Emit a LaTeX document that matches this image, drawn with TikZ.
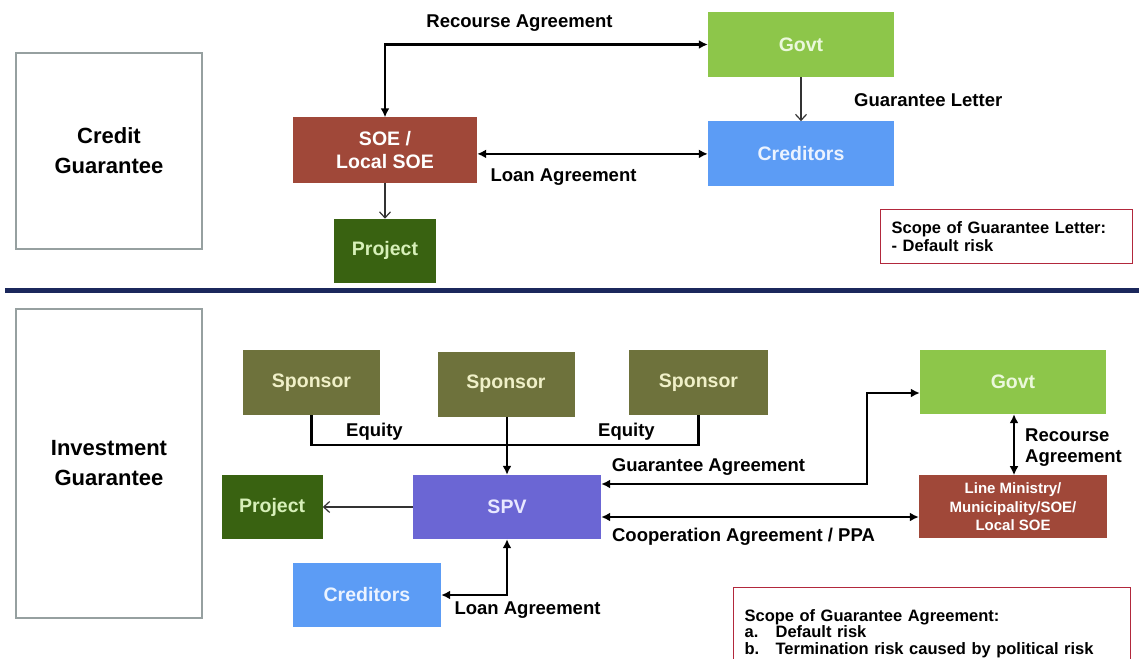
\documentclass[tikz,border=0pt]{standalone}
\usepackage{fontspec}
\setmainfont{Liberation Sans}
\usetikzlibrary{arrows.meta, positioning, calc}
\usepackage{xcolor}
\definecolor{SoeBrown}{RGB}{160,72,57}
\definecolor{ProjGreen}{RGB}{57,98,17}
\definecolor{ProjText}{RGB}{215,240,185}
\definecolor{GovGreen}{RGB}{141,198,74}
\definecolor{GovText}{RGB}{235,248,220}
\definecolor{CredBlue}{RGB}{92,156,245}
\definecolor{CredText}{RGB}{235,243,255}
\definecolor{SponsorOlive}{RGB}{110,114,60}
\definecolor{SponsorText}{RGB}{240,240,200}
\definecolor{SpvPurple}{RGB}{107,102,212}
\definecolor{SpvText}{RGB}{232,232,255}
\definecolor{ScopeRed}{RGB}{178,40,60}
\definecolor{CatGray}{RGB}{150,160,160}
\definecolor{Navy}{RGB}{27,40,92}

\begin{document}
\begin{tikzpicture}[x=1pt, y=-1pt]\bfseries
	\tikzstyle{entity} = [inner sep=0pt, align=center, minimum width=186pt, minimum height=65pt, font=\fontsize{19.5}{23}\selectfont\bfseries]
	\tikzstyle{catbox} = [draw=CatGray, line width=2.5pt, minimum width=186pt, align=center, font=\fontsize{22}{30}\selectfont\bfseries]
	\tikzstyle{note} = [draw=ScopeRed, line width=1.2pt, align=left, inner xsep=11pt, anchor=north west, font=\fontsize{16.5}{16.5}\selectfont\bfseries]
	\tikzstyle{lbl} = [inner sep=0pt, font=\fontsize{18.5}{21}\selectfont\bfseries]
	\tikzstyle{heavy} = [line width=2.8pt]
	\tikzstyle{light} = [line width=1.2pt, draw=black!80, -{Straight Barb[length=6pt, width=11pt]}]
	
	\path[use as bounding box, fill=white] (0,0) rectangle (1139,658);
	
	% credit guarantee
	\node[catbox, minimum height=196pt] (credit) at (109,151) {Credit\\Guarantee};
	\node[entity, fill=SoeBrown, text=white, minimum width=184pt] (soe) at (385,150) {SOE /\\Local SOE};
	\node[entity, fill=ProjGreen, text=ProjText, minimum width=102pt, minimum height=64pt, below=36pt of soe] (projA) {Project};
	\node[entity, fill=GovGreen, text=GovText] (govA) at (801,44.5) {Govt};
	\node[entity, fill=CredBlue, text=CredText, below=44pt of govA] (credA) {Creditors};
	\node[note, text width=230pt, minimum height=54pt, font=\fontsize{16.5}{18.5}\selectfont\bfseries] (scopeA) at (880,209) {Scope of Guarantee Letter:\\- Default risk};
	
	\draw[heavy, {Latex[length=9pt, width=9pt]}-{Latex[length=9pt, width=9pt]}] (soe.north) |- (govA.west);
	\node[lbl] (recA) at (519.5,23) {Recourse Agreement};
	\draw[light] (govA) -- (credA);
	\node[lbl, anchor=west] (letter) at (854,100) {Guarantee Letter};
	\draw[heavy, {Latex[length=9pt, width=9pt]}-{Latex[length=9pt, width=9pt]}] (soe.east |- credA.west) -- (credA.west);
	\node[lbl] (loanA) at (563.5,177) {Loan Agreement};
	\draw[light] (soe) -- (projA);
	
	\draw[Navy, line width=5pt] (5,290) -- (1139,290);
	
	% investment guarantee
	\node[catbox, minimum height=309pt] (invest) at (109,463.5) {Investment\\Guarantee};
	\node[entity, fill=SponsorOlive, text=SponsorText, minimum width=137pt] (spA) at (311.5,382.5) {Sponsor};
	\node[entity, fill=SponsorOlive, text=SponsorText, minimum width=137pt] (spB) at (506,384) {Sponsor};
	\node[entity, fill=SponsorOlive, text=SponsorText, minimum width=139pt] (spC) at (698.5,382.5) {Sponsor};
	\node[entity, fill=SpvPurple, text=SpvText, minimum width=188pt, minimum height=64pt] (spv) at (507,507) {SPV};
	\node[entity, fill=ProjGreen, text=ProjText, minimum width=101pt, minimum height=64pt, left=90pt of spv] (projB) {Project};
	\node[entity, fill=CredBlue, text=CredText, minimum width=148pt, minimum height=64pt] (credB) at (367,595) {Creditors};
	\node[entity, fill=GovGreen, text=GovText, minimum height=64pt] (govB) at (1013,382) {Govt};
	\node[entity, fill=SoeBrown, text=white, minimum width=188pt, minimum height=63pt, below=61pt of govB, font=\fontsize{15}{18.5}\selectfont\bfseries] (line) {Line Ministry/\\Municipality/SOE/\\Local SOE};
	\node[note, text width=375pt, minimum height=92pt] (scopeB) at (733,587) {Scope of Guarantee Agreement:\\\makebox[31pt][l]{a.}Default risk\\\makebox[31pt][l]{b.}Termination risk caused by political risk};
	
	\coordinate (bus) at (0,445);
	\draw[heavy] (spA.south) |- (spC.south |- bus) -- (spC.south);
	\draw[line width=1.2pt] (spv.north |- spB.south) -- (spv.north |- bus);
	\draw[heavy, -{Latex[length=9pt, width=9pt]}] (spv.north |- bus) -- (spv.north);
	\node[lbl] (eqA) at (374.5,432) {Equity};
	\node[lbl] (eqB) at (626.5,432) {Equity};
	
	\draw[light] (spv) -- (projB);
	\draw[heavy, {Latex[length=9pt, width=9pt]}-{Latex[length=9pt, width=9pt]}] (spv.south) |- (credB.east);
	\node[lbl] (loanB) at (527.5,610) {Loan Agreement};
	
	\draw[heavy, {Latex[length=9pt, width=9pt]}-{Latex[length=9pt, width=9pt]}] (spv.east |- 0,484) -| (867,393) -- (govB.west |- 0,393);
	\node[lbl] (guarB) at (708.5,467) {Guarantee Agreement};
	\draw[heavy, {Latex[length=9pt, width=9pt]}-{Latex[length=9pt, width=9pt]}] (spv.east |- 0,517) -- (line.west |- 0,517);
	\node[lbl] (coop) at (743.5,537) {Cooperation Agreement / PPA};
	\draw[heavy, {Latex[length=9pt, width=9pt]}-{Latex[length=9pt, width=9pt]}] (govB.south -| 1014,0) -- (line.north -| 1014,0);
	\node[lbl, anchor=west, align=left] (recB) at (1025,447.5) {Recourse\\Agreement};
\end{tikzpicture}
\end{document}
